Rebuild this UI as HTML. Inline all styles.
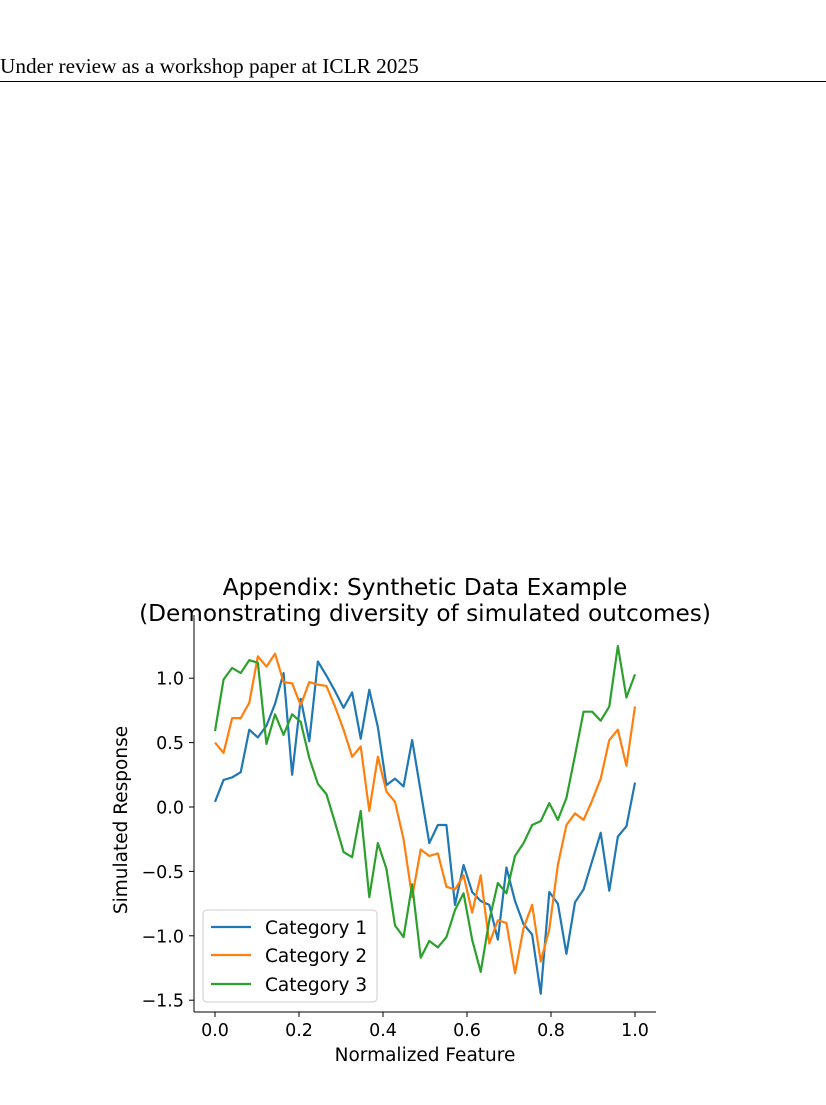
<!DOCTYPE html>
<html><head><meta charset="utf-8"><style>
body{margin:0;background:#fff;width:826px;height:1105px;overflow:hidden;position:relative}
#hdr{position:absolute;left:0;top:54px;font-family:"Liberation Serif",serif;font-size:21.3px;color:#000}
#rule{position:absolute;left:0;top:81px;width:826px;height:1px;background:#000}
svg{position:absolute;left:0;top:0}
text{font-family:"DejaVu Sans","Liberation Sans",sans-serif;fill:#000}
</style></head><body>
<div id="hdr">Under review as a workshop paper at ICLR 2025</div>
<div id="rule"></div>
<svg id="chart" width="826" height="1105">
<text x="425" y="595" font-size="23.2" text-anchor="middle">Appendix: Synthetic Data Example</text>
<text x="425" y="621" font-size="23.2" text-anchor="middle">(Demonstrating diversity of simulated outcomes)</text>
<text x="425" y="1061" font-size="18.5" text-anchor="middle">Normalized Feature</text>
<text transform="translate(127,820) rotate(-90)" font-size="18.5" text-anchor="middle">Simulated Response</text>
<g id="ticks"></g><g id="series"></g>
<line x1="194" y1="615" x2="194" y2="1012" stroke="#000" stroke-width="1"/>
<line x1="194" y1="1012" x2="656" y2="1012" stroke="#000" stroke-width="1"/>
<g>
<rect x="203" y="910" width="174" height="92" rx="4" fill="#fff" fill-opacity="0.8" stroke="#ccc"/>
<line x1="211" y1="927" x2="251" y2="927" stroke="#1f77b4" stroke-width="2.2"/>
<text x="265" y="934" font-size="18.5">Category 1</text>
<line x1="211" y1="955" x2="251" y2="955" stroke="#ff7f0e" stroke-width="2.2"/>
<text x="265" y="962" font-size="18.5">Category 2</text>
<line x1="211" y1="984" x2="251" y2="984" stroke="#2ca02c" stroke-width="2.2"/>
<text x="265" y="991" font-size="18.5">Category 3</text>
</g>
</svg>
<script>
const cat1=[0.04,0.21,0.23,0.27,0.6,0.54,0.63,0.8,1.04,0.25,0.84,0.51,1.13,1.02,0.9,0.77,0.89,0.53,0.91,0.62,0.17,0.22,0.16,0.52,0.12,-0.28,-0.14,-0.14,-0.76,-0.45,-0.66,-0.73,-0.76,-1.03,-0.47,-0.73,-0.91,-0.99,-1.45,-0.66,-0.75,-1.14,-0.74,-0.64,-0.42,-0.2,-0.65,-0.23,-0.15,0.19];
const cat2=[0.5,0.42,0.69,0.69,0.81,1.17,1.09,1.19,0.97,0.96,0.79,0.97,0.95,0.94,0.78,0.6,0.39,0.47,-0.03,0.39,0.12,0.04,-0.25,-0.7,-0.33,-0.38,-0.36,-0.62,-0.64,-0.53,-0.82,-0.53,-1.06,-0.88,-0.9,-1.29,-0.94,-0.76,-1.2,-0.95,-0.45,-0.14,-0.05,-0.1,0.05,0.22,0.52,0.6,0.32,0.78];
const cat3=[0.59,0.99,1.08,1.04,1.14,1.12,0.49,0.72,0.56,0.72,0.66,0.38,0.18,0.1,-0.12,-0.35,-0.39,-0.03,-0.7,-0.28,-0.48,-0.92,-1.01,-0.6,-1.17,-1.04,-1.09,-1.01,-0.8,-0.67,-1.03,-1.28,-0.88,-0.59,-0.67,-0.38,-0.28,-0.14,-0.11,0.03,-0.1,0.07,0.4,0.74,0.74,0.67,0.78,1.25,0.85,1.03];
const xTicks=[0,0.2,0.4,0.6,0.8,1.0];
const xTickLabels=["0.0","0.2","0.4","0.6","0.8","1.0"];
const yTicks=[1.0,0.5,0,-0.5,-1.0,-1.5];
const yTickLabels=["1.0","0.5","0.0","\u22120.5","\u22121.0","\u22121.5"];
const NS="http://www.w3.org/2000/svg";
function xs(v){return 215+v*420;}
function ys(v){return 807-v*128.8;}
const tg=document.getElementById('ticks');
xTicks.forEach((t,i)=>{
  const l=document.createElementNS(NS,'line');
  l.setAttribute('x1',xs(t));l.setAttribute('x2',xs(t));l.setAttribute('y1',1012);l.setAttribute('y2',1017);l.setAttribute('stroke','#000');
  
  
  tg.appendChild(l);
  const tx=document.createElementNS(NS,'text');
  tx.setAttribute('x',xs(t));tx.setAttribute('y',1036);tx.setAttribute('font-size','17.5');tx.setAttribute('text-anchor','middle');
  tx.textContent=xTickLabels[i];
  
  
  tg.appendChild(tx);
});
yTicks.forEach((t,i)=>{
  const l=document.createElementNS(NS,'line');
  l.setAttribute('x1',189);l.setAttribute('x2',194);l.setAttribute('y1',ys(t));l.setAttribute('y2',ys(t));l.setAttribute('stroke','#000');
  
  
  tg.appendChild(l);
  const tx=document.createElementNS(NS,'text');
  tx.setAttribute('x',184);tx.setAttribute('y',ys(t)+6.5);tx.setAttribute('font-size','17.5');tx.setAttribute('text-anchor','end');
  tx.textContent=yTickLabels[i];
  
  
  tg.appendChild(tx);
});
const sg=document.getElementById('series');
[[cat1,'#1f77b4','category-1-line'],[cat2,'#ff7f0e','category-2-line'],[cat3,'#2ca02c','category-3-line']].forEach(([d,c,n])=>{
  const p=document.createElementNS(NS,'polyline');
  p.setAttribute('points',d.map((v,i)=>xs(i/(d.length-1))+','+ys(v)).join(' '));
  p.setAttribute('fill','none');p.setAttribute('stroke',c);p.setAttribute('stroke-width','2.2');p.setAttribute('stroke-linejoin','round');
  
  
  sg.appendChild(p);
});
</script>
</body></html>
